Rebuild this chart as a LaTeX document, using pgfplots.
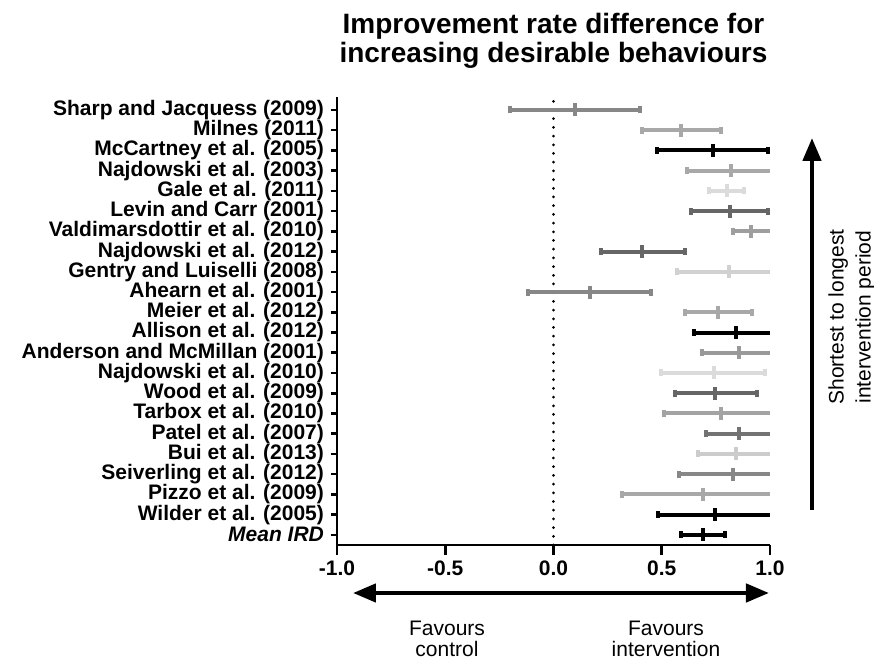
\documentclass[border=0pt]{standalone}
\usepackage{fontspec}
\setmainfont{Liberation Sans}
\usepackage{pgfplots}
\pgfplotsset{compat=1.18}
\usetikzlibrary{arrows.meta}

\newcommand{\labfont}{\fontsize{10.5}{12}\selectfont}
\pgfplotsset{
  study/.style={only marks, color=#1, mark=|, mark size=3.25pt,
    mark options={line width=2pt},
    error bars/.cd, x dir=both, x explicit,
    error mark=|,
    error bar style={line width=2pt},
    error mark options={line width=2pt, mark size=1.75pt}},
}

\begin{document}
\begin{tikzpicture}
\useasboundingbox (-168.5pt,-59pt) rectangle (268.5pt,272.5pt);
\begin{axis}[
    scale only axis,
    width=216.5pt, height=224pt,
    xmin=-1, xmax=1, ymin=-0.5, ymax=21.64,
    axis x line*=bottom, axis y line*=left,
    axis line style={-, line width=1.3pt},
    tick align=outside,
    major tick length=3pt,
    tick style={line width=1.3pt, black},
    xtick style={/pgfplots/major tick length=5pt},
    xtick={-1,-0.5,0,0.5,1},
    xticklabels={-1.0,-0.5,0.0,0.5,1.0},
    xticklabel style={yshift=-1.5pt},
    ytick={0,...,21},
    yticklabels={\textit{Mean IRD}, Wilder et al. (2005), Pizzo et al. (2009),
      Seiverling et al. (2012), Bui et al. (2013), Patel et al. (2007),
      Tarbox et al. (2010), Wood et al. (2009), Najdowski et al. (2010),
      Anderson and McMillan (2001), Allison et al. (2012), Meier et al. (2012),
      Ahearn et al. (2001), Gentry and Luiselli (2008), Najdowski et al. (2012),
      Valdimarsdottir et al. (2010), Levin and Carr (2001), Gale et al. (2011),
      Najdowski et al. (2003), McCartney et al. (2005), Milnes (2011),
      Sharp and Jacquess (2009)},
    tick label style={font=\labfont\bfseries},
]
% reference line at zero
\addplot[black, line width=1.5pt, line cap=round, dash pattern=on 0pt off 4.35pt, mark=none]
  coordinates {(0,-0.5) (0,21.64)};

\addplot[study=black!47] coordinates {(0.100,21) += (0.300,0) -= (0.300,0)};
\addplot[study=black!34] coordinates {(0.590,20) += (0.185,0) -= (0.180,0)};
\addplot[study=black]    coordinates {(0.737,19) += (0.253,0) -= (0.261,0)};
\addplot[study=black!34] coordinates {(0.820,18) += (0.230,0) -= (0.204,0)};
\addplot[study=black!14] coordinates {(0.800,17) += (0.080,0) -= (0.082,0)};
\addplot[study=black!60] coordinates {(0.816,16) += (0.174,0) -= (0.179,0)};
\addplot[study=black!38] coordinates {(0.914,15) += (0.136,0) -= (0.084,0)};
\addplot[study=black!60] coordinates {(0.410,14) += (0.196,0) -= (0.190,0)};
\addplot[study=black!18] coordinates {(0.810,13) += (0.240,0) -= (0.240,0)};
\addplot[study=black!47] coordinates {(0.167,12) += (0.285,0) -= (0.287,0)};
\addplot[study=black!34] coordinates {(0.759,11) += (0.160,0) -= (0.153,0)};
\addplot[study=black]    coordinates {(0.841,10) += (0.209,0) -= (0.191,0)};
\addplot[study=black!40] coordinates {(0.855,9) += (0.195,0) -= (0.169,0)};
\addplot[study=black!14] coordinates {(0.740,8) += (0.237,0) -= (0.242,0)};
\addplot[study=black!60] coordinates {(0.748,7) += (0.194,0) -= (0.188,0)};
\addplot[study=black!36] coordinates {(0.776,6) += (0.274,0) -= (0.265,0)};
\addplot[study=black!55] coordinates {(0.858,5) += (0.192,0) -= (0.153,0)};
\addplot[study=black!20] coordinates {(0.843,4) += (0.207,0) -= (0.176,0)};
\addplot[study=black!47] coordinates {(0.827,3) += (0.223,0) -= (0.245,0)};
\addplot[study=black!34] coordinates {(0.692,2) += (0.358,0) -= (0.374,0)};
\addplot[study=black]    coordinates {(0.748,1) += (0.302,0) -= (0.263,0)};
\addplot[study=black]    coordinates {(0.690,0) += (0.100,0) -= (0.099,0)};
\end{axis}

% title
\node[anchor=base, font=\fontsize{14}{16}\selectfont\bfseries] at (108.25pt,255.5pt)
  {Improvement rate difference for};
\node[anchor=base, font=\fontsize{14}{16}\selectfont\bfseries] at (108.25pt,241pt)
  {increasing desirable behaviours};

% horizontal direction arrow
\draw[line width=2.25pt, {Triangle[length=11.5pt,width=9pt]}-{Triangle[length=11.5pt,width=9pt]}]
  (8pt,-24pt) -- (216pt,-24pt);
\node[anchor=base, font=\labfont] at (55pt,-45.5pt) {Favours};
\node[anchor=base, font=\labfont] at (55pt,-56pt) {control};
\node[anchor=base, font=\labfont] at (164.5pt,-45.5pt) {Favours};
\node[anchor=base, font=\labfont] at (164.5pt,-56pt) {intervention};

% vertical arrow
\draw[line width=2.25pt, -{Triangle[length=11.5pt,width=9pt]}]
  (237.5pt,17.5pt) -- (237.5pt,203.5pt);
\node[anchor=base, rotate=90, font=\labfont] at (253.25pt,114pt) {Shortest to longest};
\node[anchor=base, rotate=90, font=\labfont] at (266.75pt,114pt) {intervention period};
\end{tikzpicture}
\end{document}
